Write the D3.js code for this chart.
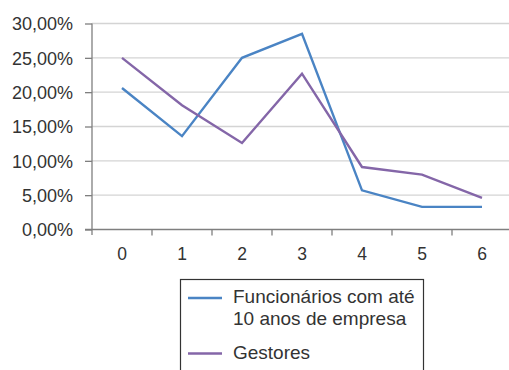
<!DOCTYPE html>
<html><head><meta charset="utf-8">
<script src="https://cdn.jsdelivr.net/npm/d3@7"></script>
<style>body{margin:0;background:#fff}svg{display:block;font-family:"Liberation Sans",Arial,sans-serif}</style>
</head><body>
<svg id="c" width="509" height="370"></svg>
<script>
const categories = ["0","1","2","3","4","5","6"];
const funcionarios = [20.6, 13.6, 25.0, 28.5, 5.7, 3.3, 3.3];
const gestores = [25.0, 18.1, 12.6, 22.7, 9.1, 8.0, 4.6];
const yTicks = [0, 5, 10, 15, 20, 25, 30];
const seriesNames = ["Funcionários com até|10 anos de empresa", "Gestores"];
const colors = ["#4a84c4", "#8466a8"];

const svg = d3.select("#c");
const x = d3.scaleBand().domain(categories).range([92, 512]);
const y = d3.scaleLinear().domain([0, 30]).range([229.5, 23.5]);

// gridlines
svg.append("g").selectAll("line").data(yTicks.slice(1)).join("line")
  .attr("x1", 92).attr("x2", 509).attr("y1", d => y(d)).attr("y2", d => y(d))
  .attr("stroke", "#d4d4d4").attr("stroke-width", 1.3);

// y axis
const yAxis = d3.axisLeft(y).tickValues(yTicks).tickSize(7).tickPadding(12)
  .tickFormat(d => d3.format(".2f")(d).replace(".", ",") + "%");
const gy = svg.append("g").attr("transform", "translate(92,0)").call(yAxis);
gy.select(".domain").remove();
gy.selectAll(".tick line").attr("stroke", "#7f7f7f").attr("stroke-width", 1.3);
gy.selectAll("text").attr("fill", "#333").attr("dy", "0.36em").style("font-size", "18px").style("font-family", "Liberation Sans, Arial, sans-serif");
svg.append("line").attr("x1", 92).attr("x2", 92).attr("y1", y(30)).attr("y2", 235)
  .attr("stroke", "#7f7f7f").attr("stroke-width", 1.3);

// x axis
const xAxis = d3.axisBottom(x).tickSize(0).tickPadding(20);
const gx = svg.append("g").attr("transform", `translate(0,${y(0)})`).call(xAxis);
gx.select(".domain").remove();
gx.selectAll("text").attr("fill", "#333").attr("dy", "0.6em").style("font-size", "17.5px").style("font-family", "Liberation Sans, Arial, sans-serif");
svg.append("line").attr("x1", 85).attr("x2", 509).attr("y1", y(0)).attr("y2", y(0))
  .attr("stroke", "#7f7f7f").attr("stroke-width", 1.3);
svg.append("g").selectAll("line").data(categories.slice(1)).join("line")
  .attr("x1", d => x(d)).attr("x2", d => x(d)).attr("y1", y(0)).attr("y2", y(0) + 6)
  .attr("stroke", "#7f7f7f").attr("stroke-width", 1.3);

// lines
const line = d3.line().x((d, i) => x(categories[i]) + x.bandwidth() / 2).y(d => y(d));
[funcionarios, gestores].forEach((s, k) => {
  svg.append("path").datum(s).attr("d", line).attr("fill", "none")
    .attr("stroke", colors[k]).attr("stroke-width", 2.4).attr("stroke-linejoin", "miter");
});

// legend
const lg = svg.append("g");
lg.append("rect").attr("x", 180.5).attr("y", 279.5).attr("width", 243).attr("height", 100)
  .attr("fill", "#fff").attr("stroke", "#333").attr("stroke-width", 1.2);
const rows = [{y: 298, lines: seriesNames[0].split("|"), c: colors[0]},
              {y: 353.5, lines: seriesNames[1].split("|"), c: colors[1]}];
rows.forEach(r => {
  lg.append("line").attr("x1", 188).attr("x2", 222).attr("y1", r.y).attr("y2", r.y)
    .attr("stroke", r.c).attr("stroke-width", 2.4);
  r.lines.forEach((t, i) => {
    lg.append("text").attr("x", 233).attr("y", r.y + 5 + i * 22).text(t)
      .attr("fill", "#333").style("font-size", "19px");
  });
});
</script>
</body></html>
